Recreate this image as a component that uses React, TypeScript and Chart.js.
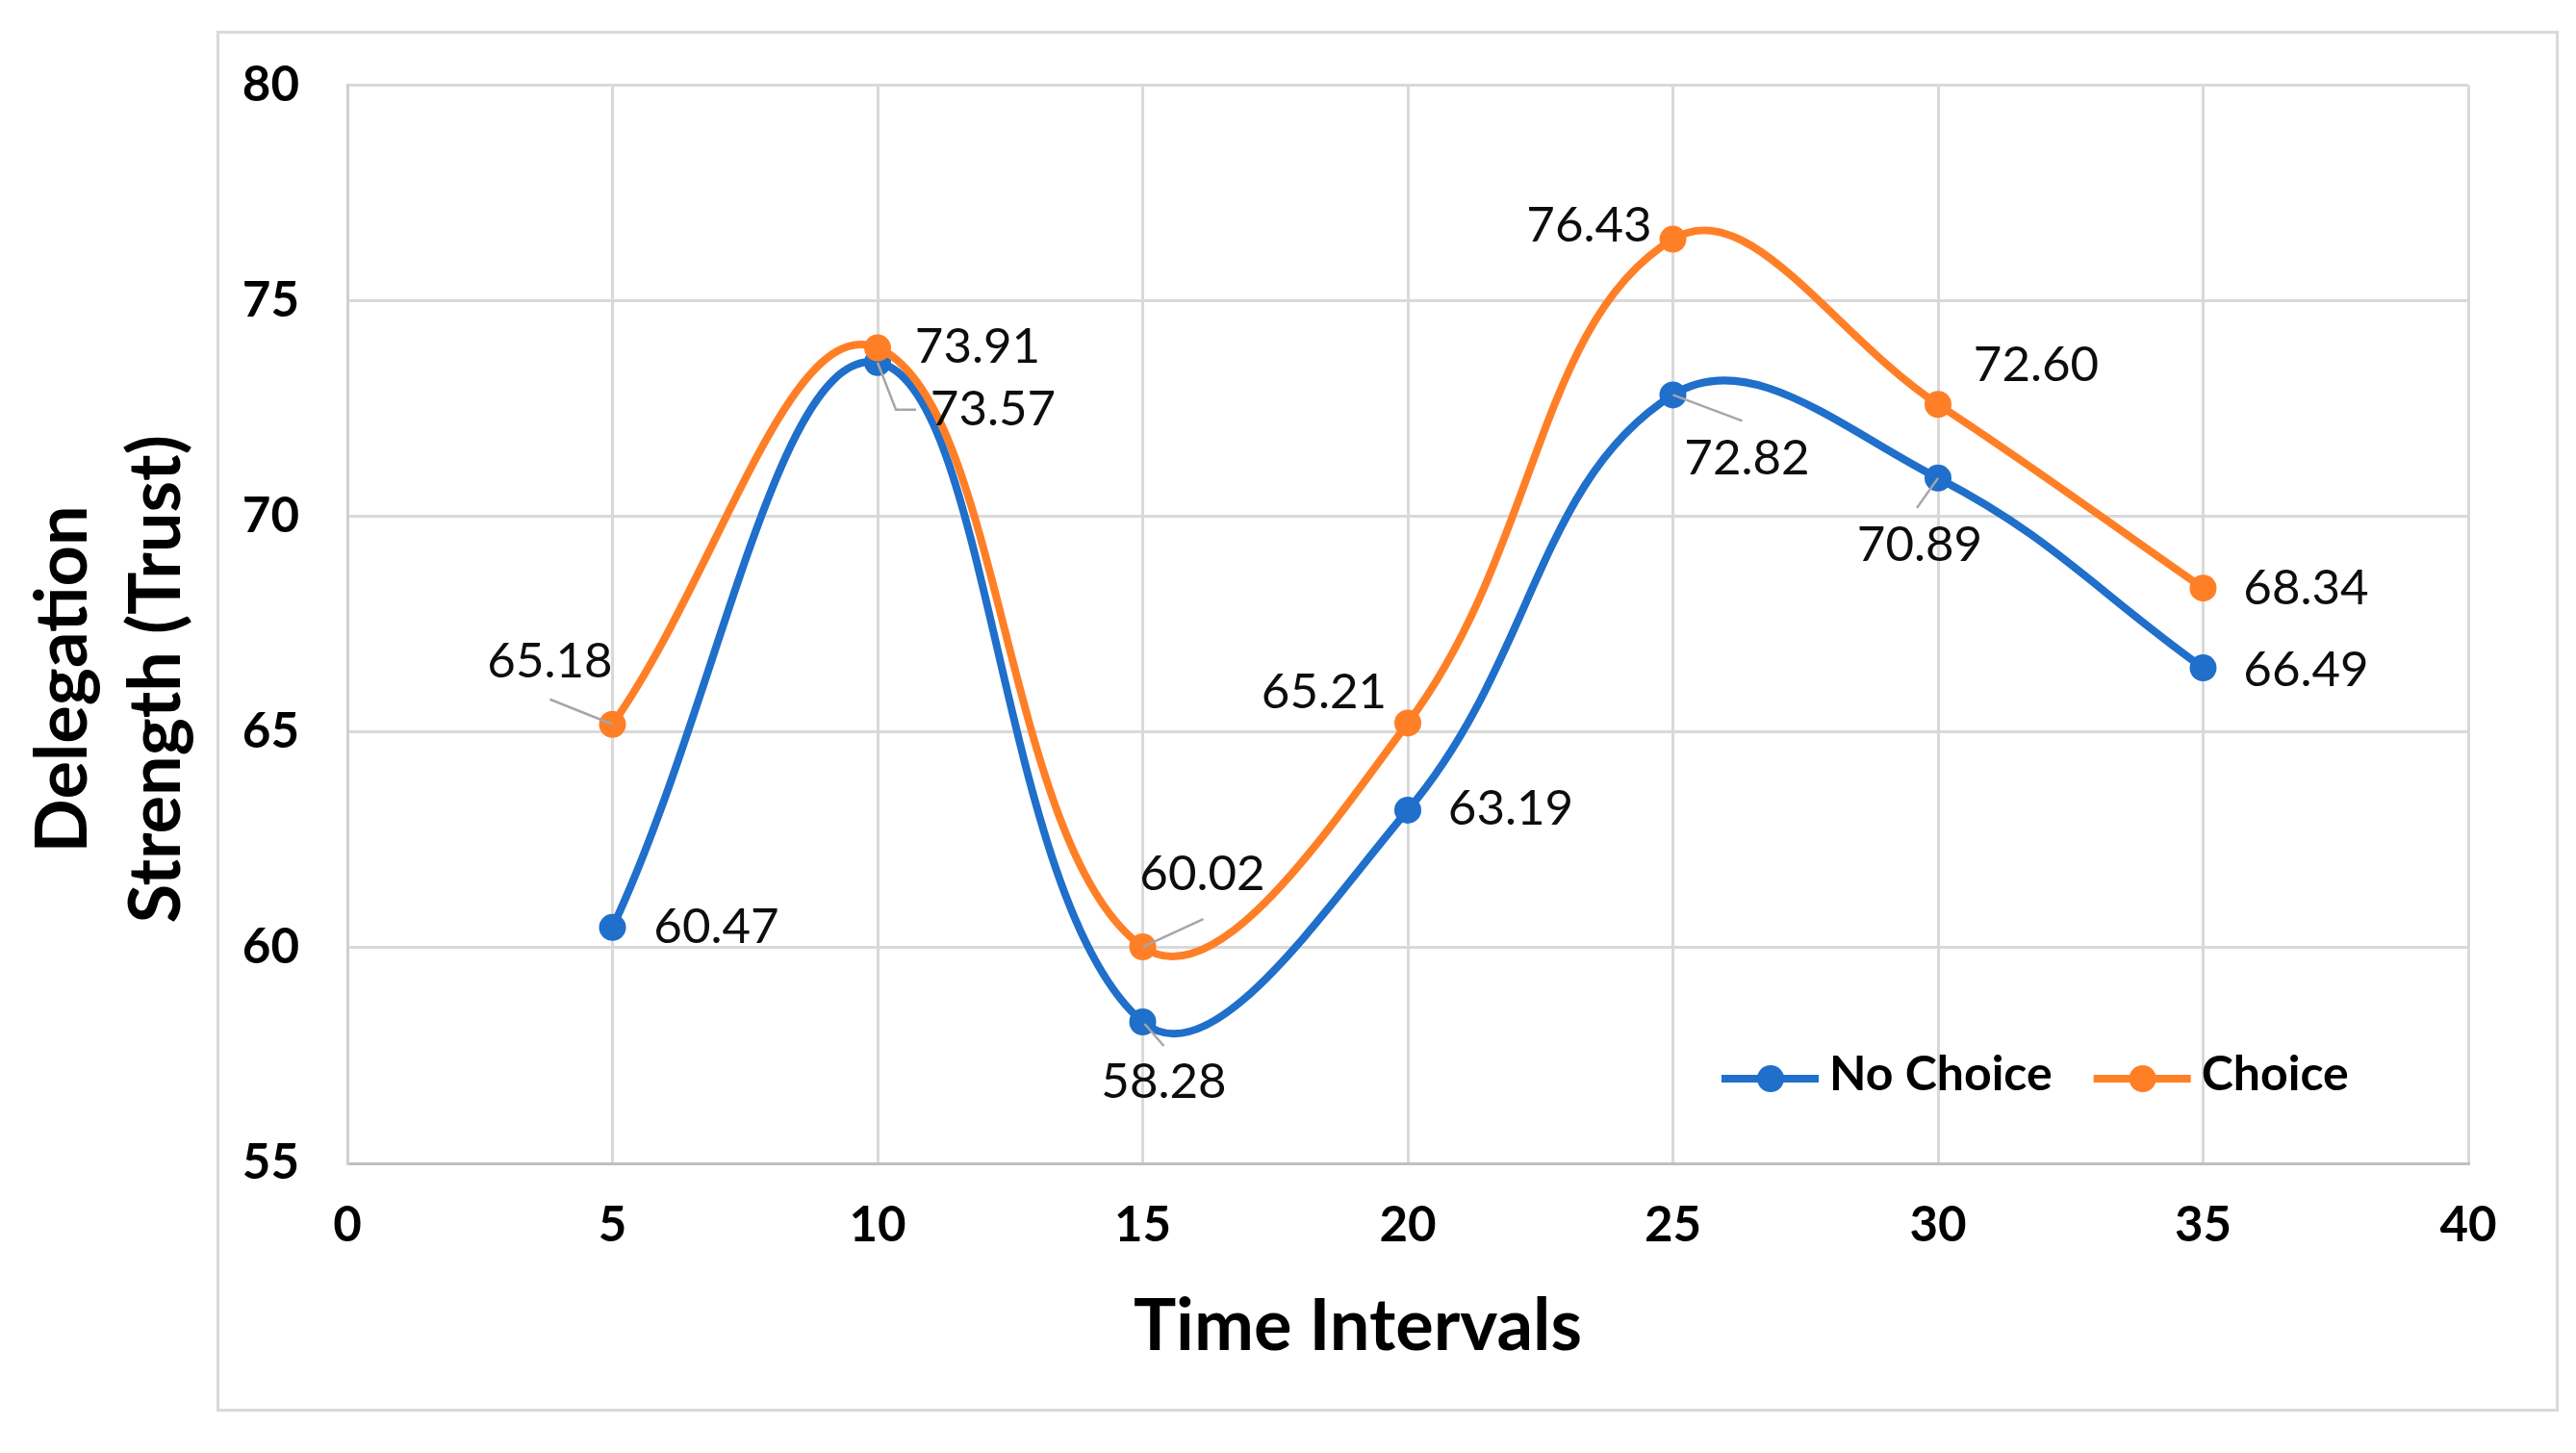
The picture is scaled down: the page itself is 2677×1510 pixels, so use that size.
import React, { useEffect, useRef } from 'react';
import { Chart, registerables } from 'chart.js';

Chart.register(...registerables);

// ---------- data ----------
const xValues = [5, 10, 15, 20, 25, 30, 35];
const noChoiceValues = [60.47, 73.57, 58.28, 63.19, 72.82, 70.89, 66.49];
const choiceValues = [65.18, 73.91, 60.02, 65.21, 76.43, 72.6, 68.34];
const seriesNames = ['No Choice', 'Choice'];
const xTitle = 'Time Intervals';
const yTitleLines = ['Delegation', 'Strength (Trust)'];
const xRange = [0, 40];
const xStep = 5;
const yRange = [55, 80];
const yStep = 5;

// ---------- label placement (pixel offsets from each point) ----------
const noChoiceLabelOffsets = [[108, 0], [120, 49], [22, 63], [107, -1], [77, 66], [-19, 70], [107, 2]];
const choiceLabelOffsets = [[-65, -65], [104, -1], [62, -75], [-87, -32], [-87, -14], [102, -41], [107, 0]];
const noChoiceLeaders: (number[][] | null)[] = [null, [[0, 0], [19, 49], [40, 49]], [[2, 2], [22, 25]], null, [[0, 0], [72, 27]], [[0, 0], [-22, 31]], null];
const choiceLeaders: (number[][] | null)[] = [[[-65, -26], [0, 0]], null, [[0, 0], [63, -29]], null, null, null, null];

const BLUE = '#1F6FCB';
const ORANGE = '#FF7F27';
const FONT = 'Lato, "Open Sans", sans-serif';
const W = 2661;
const H = 1494;

const framePlugin = {
  id: 'frame',
  beforeDraw(chart: any) {
    const ctx = chart.ctx;
    ctx.save();
    ctx.fillStyle = '#fff';
    ctx.fillRect(0, 0, chart.width, chart.height);
    ctx.strokeStyle = '#d9d9d9';
    ctx.lineWidth = 3;
    ctx.strokeRect(218.5, 25.5, 2431, 1432);
    ctx.restore();
  },
};

const dataLabelPlugin = {
  id: 'dataLabels',
  afterDatasetsDraw(chart: any) {
    const ctx = chart.ctx;
    const cfg = [
      { offsets: noChoiceLabelOffsets, leaders: noChoiceLeaders, values: noChoiceValues },
      { offsets: choiceLabelOffsets, leaders: choiceLeaders, values: choiceValues },
    ];
    ctx.save();
    cfg.forEach((c, di) => {
      const meta = chart.getDatasetMeta(di);
      meta.data.forEach((pt: any, i: number) => {
        const lead = c.leaders[i];
        if (lead) {
          ctx.beginPath();
          ctx.strokeStyle = '#a6a6a6';
          ctx.lineWidth = 2.5;
          lead.forEach((p, k) => {
            if (k === 0) ctx.moveTo(pt.x + p[0], pt.y + p[1]);
            else ctx.lineTo(pt.x + p[0], pt.y + p[1]);
          });
          ctx.stroke();
        }
      });
    });
    cfg.forEach((c, di) => {
      const meta = chart.getDatasetMeta(di);
      meta.data.forEach((pt: any, i: number) => {
        const o = c.offsets[i];
        ctx.font = `normal 51px ${FONT}`;
        ctx.fillStyle = '#0d0d0d';
        ctx.textAlign = 'center';
        ctx.textBaseline = 'middle';
        ctx.fillText(c.values[i].toFixed(2), pt.x + o[0], pt.y + o[1]);
      });
    });
    ctx.restore();
  },
};

const titlesPlugin = {
  id: 'axisTitlesCustom',
  afterDraw(chart: any) {
    const ctx = chart.ctx;
    const a = chart.chartArea;
    ctx.save();
    ctx.fillStyle = '#000';
    ctx.font = `bold 74px ${FONT}`;
    ctx.textAlign = 'center';
    ctx.textBaseline = 'alphabetic';
    ctx.fillText(xTitle, (a.left + a.right) / 2 - 52, a.bottom + 194);
    ctx.translate(a.left, (a.top + a.bottom) / 2 + 57);
    ctx.rotate(-Math.PI / 2);
    ctx.fillText(yTitleLines[0], 0, -271);
    ctx.fillText(yTitleLines[1], 0, -174);
    ctx.restore();
  },
};

const legendPlugin = {
  id: 'customLegend',
  afterDraw(chart: any) {
    const ctx = chart.ctx;
    const a = chart.chartArea;
    const y = a.bottom - 88;
    let x = a.left + 1428;
    ctx.save();
    ctx.font = `bold 50px ${FONT}`;
    ctx.textBaseline = 'middle';
    ctx.textAlign = 'left';
    chart.data.datasets.forEach((ds: any) => {
      ctx.strokeStyle = ds.borderColor;
      ctx.lineWidth = 8;
      ctx.beginPath();
      ctx.moveTo(x, y);
      ctx.lineTo(x + 101, y);
      ctx.stroke();
      ctx.fillStyle = ds.borderColor;
      ctx.beginPath();
      ctx.arc(x + 51, y, 14, 0, Math.PI * 2);
      ctx.fill();
      ctx.fillStyle = '#000';
      ctx.fillText(ds.label, x + 112, y - 4);
      x += 112 + ctx.measureText(ds.label).width + 43;
    });
    ctx.restore();
  },
};

export default function App() {
  const ref = useRef<HTMLCanvasElement | null>(null);
  useEffect(() => {
    if (!ref.current) return;
    const mk = (vals: number[]) => xValues.map((x, i) => ({ x, y: vals[i] }));
    const chart = new Chart(ref.current, {
      type: 'line',
      data: {
        datasets: [
          {
            label: seriesNames[0],
            data: mk(noChoiceValues),
            borderColor: BLUE,
            backgroundColor: BLUE,
            pointBackgroundColor: BLUE,
            pointBorderWidth: 0,
            pointRadius: 14,
            borderWidth: 8,
            tension: 0.4,
            order: 2,
          },
          {
            label: seriesNames[1],
            data: mk(choiceValues),
            borderColor: ORANGE,
            backgroundColor: ORANGE,
            pointBackgroundColor: ORANGE,
            pointBorderWidth: 0,
            pointRadius: 14,
            borderWidth: 8,
            tension: 0.4,
            order: 1,
          },
        ],
      },
      options: {
        animation: false,
        responsive: false,
        devicePixelRatio: 1,
        layout: { padding: { left: 0, right: 104, top: 76, bottom: 0 } },
        plugins: { legend: { display: false }, tooltip: { enabled: false } },
        scales: {
          x: {
            type: 'linear',
            min: xRange[0],
            max: xRange[1],
            ticks: { stepSize: xStep, color: '#000', font: { family: FONT, size: 51, weight: 'bold' }, padding: 34 },
            grid: { color: '#d9d9d9', lineWidth: 3, drawTicks: false },
            border: { color: '#bfbfbf', width: 3 },
            afterFit: (s: any) => { s.height = 293; },
          },
          y: {
            type: 'linear',
            min: yRange[0],
            max: yRange[1],
            ticks: { stepSize: yStep, color: '#000', font: { family: FONT, size: 51, weight: 'bold' }, padding: 50 },
            grid: { color: '#d9d9d9', lineWidth: 3, drawTicks: false },
            border: { color: '#cfcfcf', width: 3 },
            afterFit: (s: any) => { s.width = 353; },
          },
        },
      },
      plugins: [framePlugin, dataLabelPlugin, titlesPlugin, legendPlugin],
    } as any);
    return () => chart.destroy();
  }, []);
  return (
    <div style={{ width: W, height: H }}>
      <canvas ref={ref} width={W} height={H} style={{ display: 'block', width: W, height: H }} />
    </div>
  );
}
